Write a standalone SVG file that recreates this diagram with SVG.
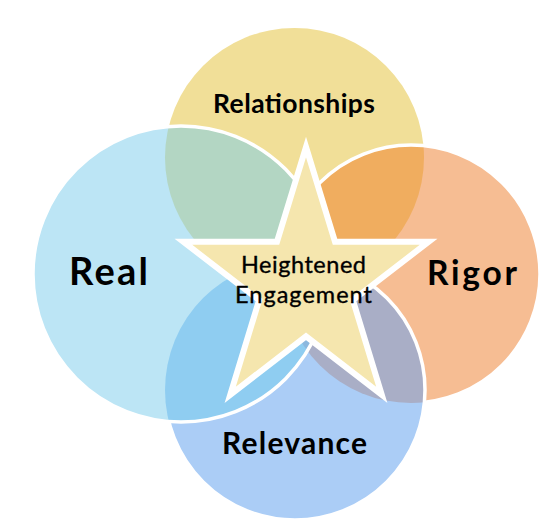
<svg xmlns="http://www.w3.org/2000/svg" width="556" height="532" viewBox="0 0 556 532">
  <style>
    .lbl { font-family: Lato, "Open Sans", "Liberation Sans", sans-serif; fill: #000000; text-anchor: middle; }
    .big { font-weight: bold; }
    .ring { fill: none; stroke: #FFFFFF; stroke-width: 3.5; }
  </style>
  <defs>
    <clipPath id="cpReal"><circle cx="181" cy="274" r="148"/></clipPath>
    <clipPath id="cpRigor"><circle cx="411" cy="274" r="129"/></clipPath>
    <clipPath id="cpRelevance"><circle cx="295" cy="390" r="130"/></clipPath>
  </defs>
  <rect width="556" height="532" fill="#FFFFFF"/>

  <g id="relationships">
    <circle cx="294.5" cy="157.5" r="129.5" fill="#F1DF98"/>
  </g>

  <g id="rigor">
    <circle cx="411" cy="274" r="129" fill="#F6BD93"/>
    <circle cx="294.5" cy="157.5" r="129.5" fill="#F0AD5F" clip-path="url(#cpRigor)"/>
    <circle class="ring" cx="411" cy="274" r="129"/>
  </g>

  <g id="relevance">
    <circle cx="295" cy="390" r="130" fill="#ABCDF6"/>
    <circle cx="411" cy="274" r="129" fill="#A9AEC6" clip-path="url(#cpRelevance)"/>
    <circle class="ring" cx="295" cy="390" r="130"/>
  </g>

  <g id="real">
    <circle cx="181" cy="274" r="148" fill="#BCE5F5"/>
    <g clip-path="url(#cpReal)">
      <circle cx="294.5" cy="157.5" r="129.5" fill="#B3D6C3"/>
      <circle cx="295" cy="390" r="130" fill="#8FCDF1"/>
      <g clip-path="url(#cpRelevance)">
        <circle cx="411" cy="274" r="129" fill="#8BB8DE"/>
      </g>
    </g>
    <circle class="ring" cx="181" cy="274" r="148"/>
  </g>

  <g id="engagement">
    <path d="M306,147 L335,241.7 L428.7,241.7 L352.9,300.2 L381.8,394.8 L306,336.3 L230.2,394.8 L259.1,300.2 L183.3,241.7 L277,241.7 Z" fill="#F5E6AE" stroke="#FFFFFF" stroke-width="6" stroke-linejoin="miter"/>
  </g>

  <g id="labels">
    <text class="lbl big" x="294" y="113" font-size="26.5" textLength="162">Relationships</text>
    <text class="lbl big" x="108.5" y="285" font-size="38" textLength="79">Real</text>
    <text class="lbl big" x="472" y="285" font-size="33.5" textLength="90">Rigor</text>
    <text class="lbl big" x="294.5" y="454" font-size="30" textLength="145">Relevance</text>
    <text class="lbl" x="303.5" y="273" font-size="23.5" textLength="125" stroke="#000000" stroke-width="0.35">Heightened</text>
    <text class="lbl" x="303.5" y="303" font-size="23.5" textLength="137" stroke="#000000" stroke-width="0.35">Engagement</text>
  </g>
</svg>
